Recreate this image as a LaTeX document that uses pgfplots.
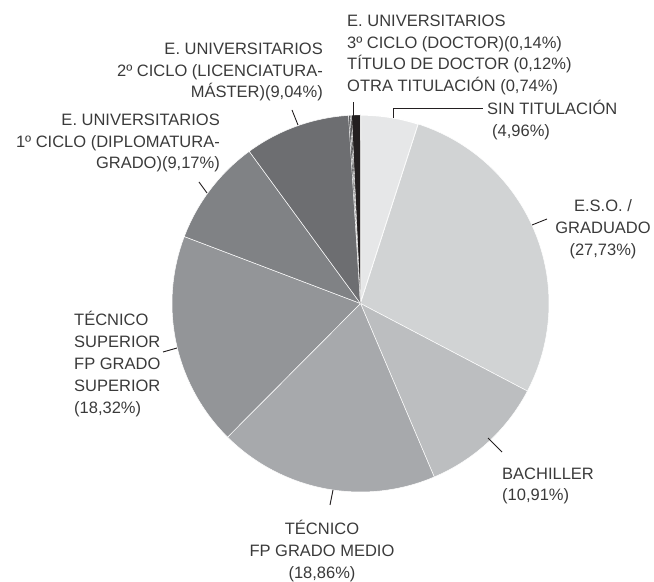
\documentclass[border=0pt]{standalone}
\usepackage{pgfplots}
\pgfplotsset{compat=1.18}
\usepackage{fontspec}
\setmainfont{Liberation Sans}
\definecolor{txt}{HTML}{3A3A3A}
\definecolor{lead}{HTML}{231F20}
\definecolor{cSIN}{HTML}{E6E7E8}
\definecolor{cESO}{HTML}{D1D3D4}
\definecolor{cBAC}{HTML}{BCBEC0}
\definecolor{cFPM}{HTML}{A7A9AC}
\definecolor{cTSU}{HTML}{939598}
\definecolor{cUN1}{HTML}{808285}
\definecolor{cUN2}{HTML}{6D6E71}
\definecolor{cUN3}{HTML}{58595B}
\definecolor{cDOC}{HTML}{414042}
\definecolor{cOTR}{HTML}{231F20}
\tikzset{lbl/.style={font=\fontsize{16.5}{21.8}\selectfont, text=txt, inner sep=0pt}}
% cumulative shares (in %): start, end
\newcommand{\slice}[4][0.5pt]{%
  \addplot[fill=#4, draw=white, line width=#1, domain={90-3.6*(#3)}:{90-3.6*(#2)}, samples=80, variable=\t]
    ({360.5+188.5*cos(\t)},{277.5+188.5*sin(\t)}) -- (axis cs:360.5,277.5) -- cycle;
}
\begin{document}
\begin{tikzpicture}
\begin{axis}[
  width=654pt, height=581pt, scale only axis,
  xmin=0, xmax=654, ymin=0, ymax=581,
  hide axis, clip=false,
]
\path (rel axis cs:0,0) rectangle (rel axis cs:1,1);
% values: 4.96, 27.73, 10.91, 18.86, 18.32, 9.17, 9.04, 0.14, 0.12, 0.74
\slice[1.2pt]{0}{4.96}{cSIN}
\slice{4.96}{4.96+27.73}{cESO}
\slice{32.69}{32.69+10.91}{cBAC}
\slice{43.60}{43.60+18.86}{cFPM}
\slice{62.46}{62.46+18.32}{cTSU}
\slice{80.78}{80.78+9.17}{cUN1}
\slice{89.95}{89.95+9.04}{cUN2}
\slice[0.3pt]{98.99}{98.99+0.14}{cUN3}
\slice[0.3pt]{99.13}{99.13+0.12}{cDOC}
\slice[0.3pt]{99.25}{99.25+0.74}{cOTR}

% leader lines
\draw[lead, line width=0.9pt] (axis cs:393,463) -- (axis cs:393,473) -- (axis cs:483,473);
\draw[lead, line width=0.9pt] (axis cs:353,465) -- (axis cs:353,479);
\draw[lead, line width=0.9pt] (axis cs:298,456) -- (axis cs:292,471);
\draw[lead, line width=0.9pt] (axis cs:207,388) -- (axis cs:199,399);
\draw[lead, line width=0.9pt] (axis cs:177,233) -- (axis cs:163,229);
\draw[lead, line width=0.9pt] (axis cs:532,356) -- (axis cs:547,362);
\draw[lead, line width=0.9pt] (axis cs:488,143) -- (axis cs:502,129);
\draw[lead, line width=0.9pt] (axis cs:333,91) -- (axis cs:330,76);

% labels
\node[lbl, anchor=west, align=left] at (axis cs:347,526) {E. UNIVERSITARIOS\\3º CICLO (DOCTOR)(0,14\%)\\TÍTULO DE DOCTOR (0,12\%)\\OTRA TITULACIÓN (0,74\%)};
\node[lbl, anchor=west, align=left] at (axis cs:487,461) {SIN TITULACIÓN\\\hspace*{5pt}(4,96\%)};
\node[lbl, anchor=east, align=right] at (axis cs:323,509) {E. UNIVERSITARIOS\\2º CICLO (LICENCIATURA-\\MÁSTER)(9,04\%)};
\node[lbl, anchor=east, align=right] at (axis cs:220,438) {E. UNIVERSITARIOS\\1º CICLO (DIPLOMATURA-\\GRADO)(9,17\%)};
\node[lbl, anchor=west, align=left] at (axis cs:74,217) {TÉCNICO\\SUPERIOR\\FP GRADO\\SUPERIOR\\(18,32\%)};
\node[lbl, anchor=center, align=center] at (axis cs:603,352) {E.S.O. /\\GRADUADO\\(27,73\%)};
\node[lbl, anchor=west, align=left] at (axis cs:502,95) {BACHILLER\\(10,91\%)};
\node[lbl, anchor=center, align=center] at (axis cs:322,30) {TÉCNICO\\FP GRADO MEDIO\\(18,86\%)};
\end{axis}
\end{tikzpicture}
\end{document}
